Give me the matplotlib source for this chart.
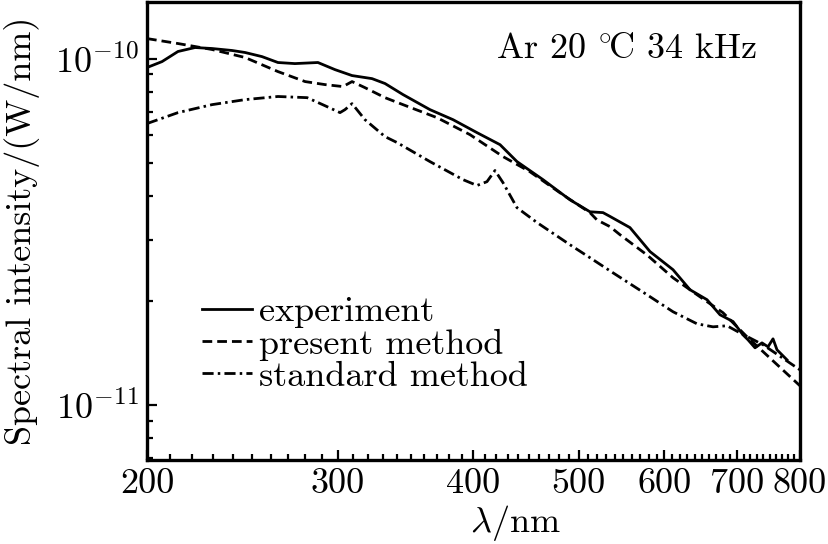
"""Spectral intensity vs wavelength (Ar, 20 C, 34 kHz), log-log."""
import numpy as np
import matplotlib
matplotlib.use("Agg")
import matplotlib.pyplot as plt
from matplotlib.ticker import FixedLocator, FixedFormatter, NullFormatter

# ── Data ──────────────────────────────────────────────────────────────────────
exp_wl = [200, 206.5, 213.6, 221.5, 229.6, 239.6, 246.3, 255.3, 264.1, 273.8,
          287.5, 298.1, 309.1, 322.5, 331.5, 344.4, 364.7, 383.0, 403.0, 423.2,
          438.7, 463.6, 490.9, 512.2, 526.6, 534.5, 557.6, 581.9, 611.0, 633.4,
          656.7, 675.1, 694.0, 708.8, 716.4, 727.2, 738.0, 747.5, 755.5, 761.9,
          778.2]
exp_val = [0.942, 0.980, 1.048, 1.076, 1.069, 1.055, 1.041, 1.013, 0.974, 0.967,
           0.974, 0.929, 0.893, 0.875, 0.847, 0.787, 0.712, 0.666, 0.611, 0.564,
           0.504, 0.447, 0.391, 0.361, 0.359, 0.350, 0.325, 0.277, 0.2456, 0.215,
           0.2012, 0.182, 0.174, 0.1593, 0.1541, 0.1461, 0.1510, 0.1471, 0.1551,
           0.1442, 0.1349]

pres_wl = [200, 213.6, 229.6, 246.3, 264.1, 279.8, 291.8, 303.2, 309.1, 317.7,
           331.5, 344.4, 370.2, 397.0, 425.9, 451.0, 483.7, 512.2, 519.9, 534.5,
           545.9, 578.1, 611.0, 642.9, 679.4, 714.9, 800]
pres_val = [1.142, 1.105, 1.062, 1.007, 0.917, 0.858, 0.841, 0.830, 0.858, 0.824,
            0.771, 0.736, 0.675, 0.603, 0.521, 0.471, 0.404, 0.359, 0.342, 0.327,
            0.310, 0.271, 0.2328, 0.2080, 0.1845, 0.1572, 0.1135]

std_wl = [200, 213.6, 229.6, 246.3, 264.1, 281.0, 291.8, 301.3, 304.5, 309.1,
          317.7, 331.5, 340.1, 364.7, 391.2, 403.0, 411.6, 418.7, 425.9, 438.7,
          457.8, 490.9, 512.2, 537.9, 578.1, 611.0, 642.9, 665.1, 685.2, 704.3,
          740.0, 800]
std_val = [0.649, 0.698, 0.736, 0.761, 0.777, 0.771, 0.731, 0.698, 0.712, 0.741,
           0.666, 0.595, 0.572, 0.504, 0.447, 0.430, 0.441, 0.475, 0.438, 0.371,
           0.336, 0.290, 0.266, 0.2406, 0.2080, 0.1857, 0.1714, 0.1680, 0.1692,
           0.1614, 0.149, 0.1262]

SCALE = 1e-10
x_major = [200, 300, 400, 500, 600, 700, 800]

# ── Style ─────────────────────────────────────────────────────────────────────
plt.rcParams["font.family"] = ["cmr10", "DejaVu Serif"]
plt.rcParams["mathtext.fontset"] = "cm"
plt.rcParams["axes.formatter.use_mathtext"] = True
plt.rcParams["font.size"] = 26

LW = 2.0

fig = plt.figure(figsize=(8.29, 5.44), dpi=100)
ax = fig.add_axes([0.1773, 0.1544, 0.965 - 0.1773, 0.997 - 0.1544])

ax.plot(exp_wl, np.array(exp_val) * SCALE, color="black", lw=LW, label="experiment")
ax.plot(pres_wl, np.array(pres_val) * SCALE, color="black", lw=LW,
        dashes=(3.5, 1.8), label="present method")
ax.plot(std_wl, np.array(std_val) * SCALE, color="black", lw=LW,
        dashes=(4, 1.5, 0.9, 1.5), label="standard method")

ax.set_xscale("log")
ax.set_yscale("log")
ax.set_xlim(200, 800)
ax.set_ylim(6.93e-12, 1.46e-10)

ax.xaxis.set_major_locator(FixedLocator(x_major))
ax.xaxis.set_major_formatter(FixedFormatter([str(v) for v in x_major]))
ax.xaxis.set_minor_locator(FixedLocator([v for v in range(210, 800, 10) if v % 100]))
ax.xaxis.set_minor_formatter(NullFormatter())
ax.yaxis.set_minor_formatter(NullFormatter())

ax.tick_params(which="both", direction="in", top=False, right=False, width=1.6)
ax.tick_params(which="major", length=7, pad=6)
ax.tick_params(which="minor", length=4.5)
for sp in ax.spines.values():
    sp.set_linewidth(2.4)

ax.set_xlabel(r"$\lambda$/nm")
ax.xaxis.set_label_coords((515 - 147) / 653, -0.094)
ax.set_ylabel("Spectral intensity/(W/nm)")
ax.yaxis.set_label_coords(-0.164, 0.5)

ax.text(0.9357, 0.878, r"Ar 20 $^{\circ}\!$C 34 kHz", transform=ax.transAxes,
        ha="right", va="baseline")

ax.legend(loc="center left", bbox_to_anchor=(0.084, 0.252), frameon=False,
          borderpad=0, borderaxespad=0, handlelength=1.4, handletextpad=0.18,
          labelspacing=0.0)

fig.savefig("out.png", dpi=100)
